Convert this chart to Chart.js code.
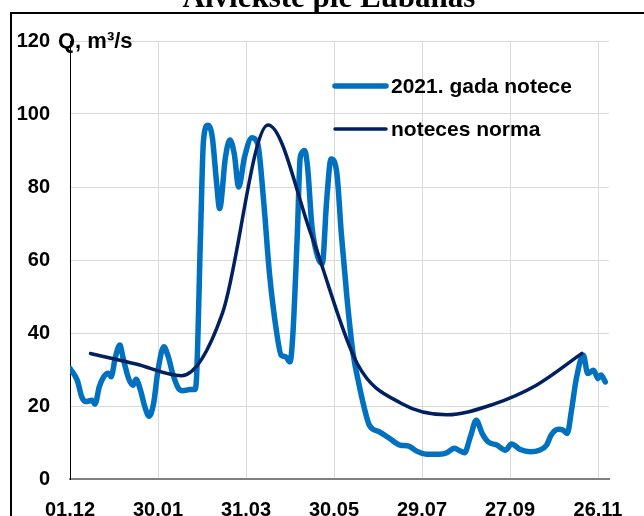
<!DOCTYPE html>
<html>
<head>
<meta charset="utf-8">
<script src="https://cdn.jsdelivr.net/npm/chart.js@4/dist/chart.umd.min.js"></script>
<style>
  html, body { margin: 0; padding: 0; background: #fff; }
  #chart { display: block; }
</style>
</head>
<body>
<canvas id="chart" width="644" height="516"></canvas>
<script>
// --- DATA (day counted from 01.12) ---
const tickLabels = ['01.12', '30.01', '31.03', '30.05', '29.07', '27.09', '26.11'];

const days2021 = [0, 5, 8, 11, 15, 17, 20, 23, 26, 28, 31, 34, 36, 40, 43, 45, 48, 51, 54, 57,
  60, 64, 67, 70, 74, 77, 82, 85, 86, 89, 91, 94, 97, 100, 102, 106, 109, 112, 115, 119,
  124, 128, 132, 136, 141, 144, 147, 150, 152, 155, 157, 160, 162, 165, 169, 172, 175, 178, 182, 185,
  189, 193, 197, 201, 204, 211, 218, 225, 231, 236, 243, 252, 257, 262, 265, 269, 273, 277, 281, 285,
  291, 297, 301, 307, 314, 320, 325, 328, 333, 336, 339, 342, 345, 350, 353, 357, 360, 362, 365];
const flow2021 = [30.3, 27, 22.5, 21.2, 21.6, 20.5, 25.3, 28, 29, 28, 33.5, 36.7, 33.5, 27.5, 25.7, 27.3, 24.4, 19.8, 17.2, 20.7,
  29.8, 36.2, 33.5, 28.9, 24.8, 24.2, 24.5, 24.5, 26, 67, 92.7, 96.9, 93.7, 80.9, 74.1, 88.2, 92.9, 89.1, 80, 88.2,
  93.5, 91.8, 76.3, 56.3, 39.9, 33.9, 33.5, 32.1, 39.9, 67.2, 88.2, 90, 85.4, 69, 60.8, 59, 76.3, 87.7, 83.6, 67.2,
  49, 34.4, 26, 18.9, 14.8, 12.9, 11.1, 9.3, 9, 7.7, 6.8, 6.8, 7.2, 8.4, 7.9, 7.2, 11.6, 16.1, 12.5, 10.2,
  9.3, 7.9, 9.6, 8.1, 7.5, 7.9, 9.3, 12, 13.6, 13.4, 12.5, 19, 27, 33.9, 28.9, 29.8, 27.5, 28.5, 26.6];

const normDays = [14, 45, 76, 104, 135, 165, 196, 226, 257, 288, 318, 349];
const normFlow = [34.4, 31.5, 28.3, 45.5, 97, 66.3, 31.5, 20.7, 17.6, 20.4, 25.7, 34.4];

const seriesNames = ['2021. gada notece', 'noteces norma'];
const seriesColors = ['#0070C0', '#002060'];

const FONT = "'Liberation Sans', Arial, sans-serif";

// title, axis caption, legend and outer frame
const decorPlugin = {
  id: 'decor',
  beforeDraw(chart) {
    const ctx = chart.ctx;
    ctx.save();
    ctx.fillStyle = '#fff';
    ctx.fillRect(0, 0, chart.width, chart.height);
    ctx.strokeStyle = '#000';
    ctx.lineWidth = 2;
    ctx.strokeRect(11, 13, 800, 700);
    ctx.restore();
  },
  afterDraw(chart) {
    const ctx = chart.ctx;
    ctx.save();
    // cut-off title
    ctx.fillStyle = '#000';
    ctx.font = "bold 31px 'Liberation Serif', 'Times New Roman', serif";
    ctx.textAlign = 'center';
    ctx.textBaseline = 'alphabetic';
    ctx.fillText('Aiviekste pie Lubānas', 329, 7);

    // y axis caption
    ctx.font = 'bold 22px ' + FONT;
    ctx.textAlign = 'left';
    ctx.textBaseline = 'middle';
    ctx.fillText('Q, m³/s', 58, 42);

    // legend
    const rows = [86, 129];
    chart.data.datasets.forEach((ds, i) => {
      const y = rows[i];
      ctx.strokeStyle = ds.borderColor;
      ctx.lineWidth = ds.borderWidth;
      ctx.lineCap = 'round';
      ctx.beginPath();
      ctx.moveTo(335, y);
      ctx.lineTo(386, y);
      ctx.stroke();
      ctx.fillStyle = '#000';
      ctx.font = 'bold 21px ' + FONT;
      ctx.fillText(ds.label, 391, y + 1);
    });
    ctx.restore();
  }
};

new Chart(document.getElementById('chart'), {
  type: 'line',
  data: {
    datasets: [
      {
        label: seriesNames[0],
        data: days2021.map((d, i) => ({ x: d, y: flow2021[i] })),
        borderColor: seriesColors[0],
        borderWidth: 5.5,
        pointRadius: 0,
        cubicInterpolationMode: 'monotone',
        borderCapStyle: 'round',
        borderJoinStyle: 'round',
        order: 2
      },
      {
        label: seriesNames[1],
        data: normDays.map((d, i) => ({ x: d, y: normFlow[i] })),
        borderColor: seriesColors[1],
        borderWidth: 3.5,
        pointRadius: 0,
        cubicInterpolationMode: 'monotone',
        borderCapStyle: 'round',
        order: 1
      }
    ]
  },
  options: {
    responsive: false,
    animation: false,
    layout: { padding: { top: 41, right: 35, left: 0, bottom: 0 } },
    plugins: {
      legend: { display: false },
      title: { display: false },
      tooltip: { enabled: false }
    },
    scales: {
      x: {
        type: 'linear',
        min: 0,
        max: 367.5,
        afterFit: s => { s.height = 37; },
        ticks: {
          stepSize: 60,
          includeBounds: false,
          autoSkip: false,
          maxRotation: 0,
          padding: 19,
          color: '#000',
          font: { family: FONT, size: 20, weight: 'bold' },
          callback: v => tickLabels[v / 60] ?? ''
        },
        grid: { color: '#d9d9d9', drawTicks: false },
        border: { color: '#808080', width: 2 }
      },
      y: {
        min: 0,
        max: 120,
        afterFit: s => { s.width = 70; },
        ticks: {
          stepSize: 20,
          padding: 20,
          color: '#000',
          font: { family: FONT, size: 20, weight: 'bold' }
        },
        grid: { color: '#d9d9d9', drawTicks: false },
        border: { color: '#000', width: 1 }
      }
    }
  },
  plugins: [decorPlugin]
});
</script>
</body>
</html>
